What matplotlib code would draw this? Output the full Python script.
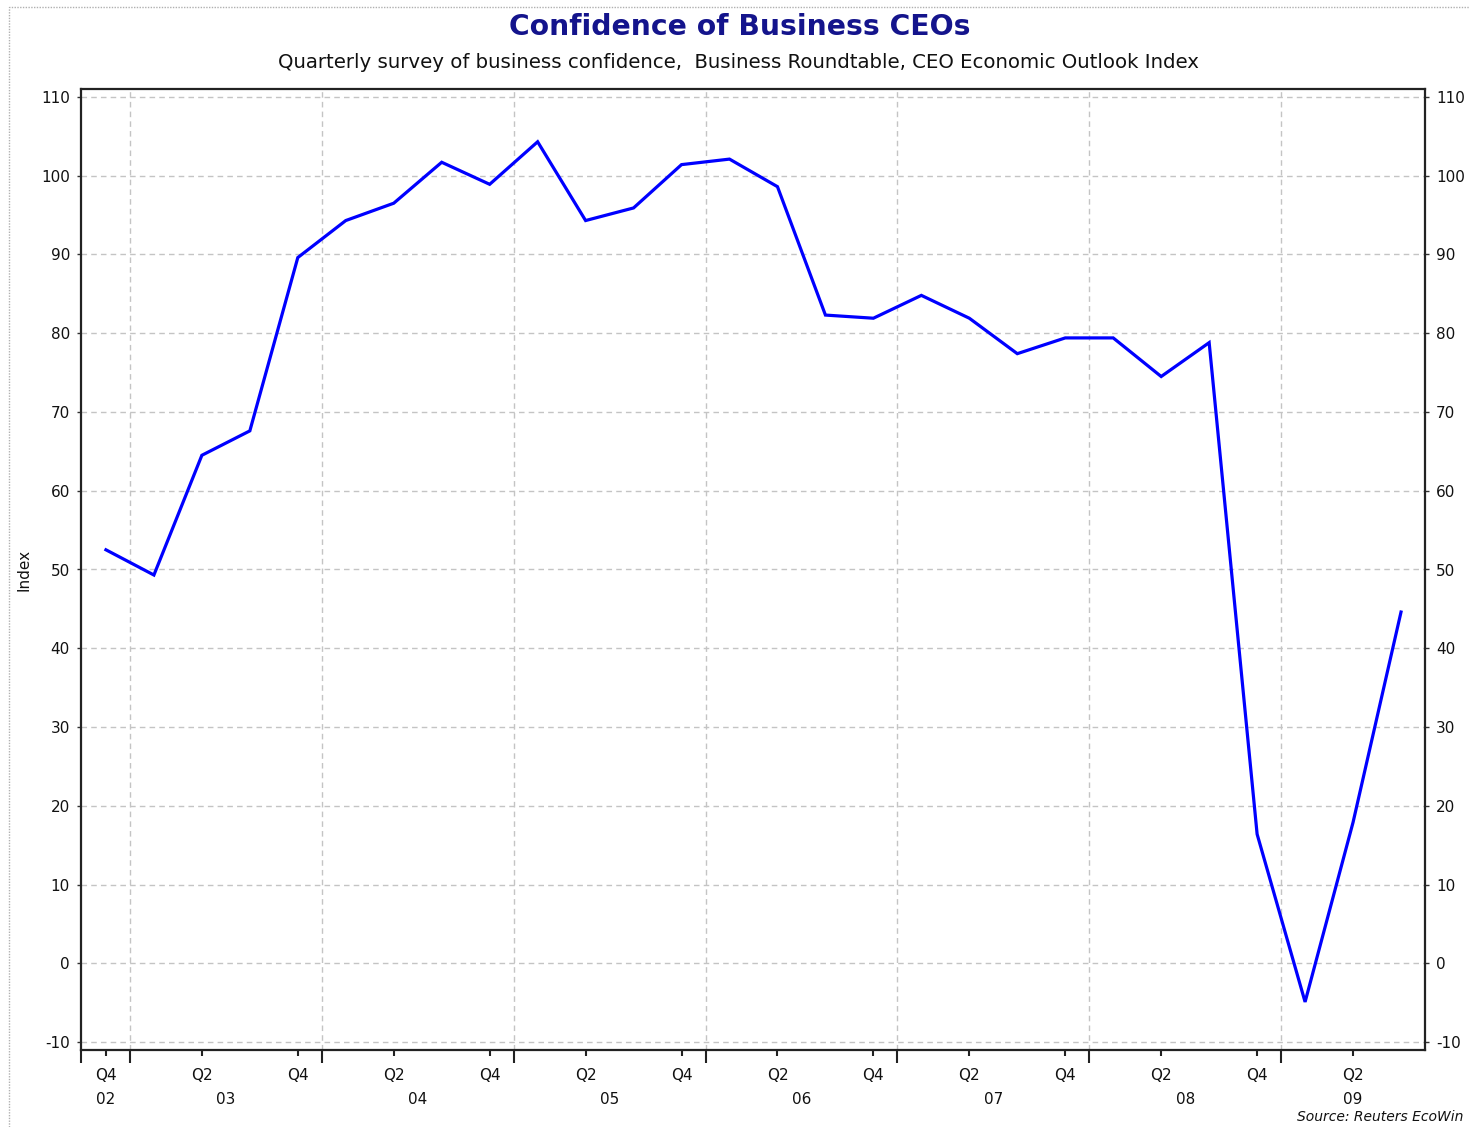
import matplotlib
matplotlib.use("Agg")
import matplotlib.pyplot as plt
from matplotlib.patches import Rectangle
from matplotlib.ticker import FixedLocator, NullFormatter
import matplotlib.transforms as mtransforms

# ---------------- data ----------------
quarters = ["Q4 02", "Q1 03", "Q2 03", "Q3 03", "Q4 03", "Q1 04", "Q2 04", "Q3 04",
            "Q4 04", "Q1 05", "Q2 05", "Q3 05", "Q4 05", "Q1 06", "Q2 06", "Q3 06",
            "Q4 06", "Q1 07", "Q2 07", "Q3 07", "Q4 07", "Q1 08", "Q2 08", "Q3 08",
            "Q4 08", "Q1 09", "Q2 09", "Q3 09"]
values = [52.5, 49.3, 64.5, 67.6, 89.6, 94.3, 96.5, 101.7,
          98.9, 104.3, 94.3, 95.9, 101.4, 102.1, 98.6, 82.3,
          81.9, 84.8, 81.9, 77.4, 79.4, 79.4, 74.5, 78.8,
          16.4, -4.9, 17.9, 44.6]
year_labels = ["02", "03", "04", "05", "06", "07", "08", "09"]
y_ticks = [-10, 0, 10, 20, 30, 40, 50, 60, 70, 80, 90, 100, 110]

title = "Confidence of Business CEOs"
subtitle = "Quarterly survey of business confidence,  Business Roundtable, CEO Economic Outlook Index"
source = "Source: Reuters EcoWin"

# ---------------- figure ----------------
plt.rcParams['font.family'] = ['DejaVu Sans']
plt.rcParams['axes.unicode_minus'] = False
fig = plt.figure(figsize=(14.7, 11.27), dpi=100)
fig.patch.set_facecolor("white")

# outer dotted border
fig.patches.append(Rectangle((9 / 1470, -0.01), 1.02, 1 - 7 / 1127 + 0.01, transform=fig.transFigure,
                             fill=False, edgecolor="#b0b0b0", linestyle=(0, (1, 1)), linewidth=1.0))

ax = fig.add_axes([81 / 1470, 1 - 1050 / 1127, (1425 - 81) / 1470, (1050 - 89) / 1127])

x = list(range(len(values)))
ax.plot(x, values, color="#0000ff", linewidth=2.3, zorder=3, solid_joinstyle="miter")

xmin, xmax = -0.52, 27.5
ax.set_xlim(xmin, xmax)
ax.set_ylim(-11, 111)

# y axis ticks both sides
ax.set_yticks(y_ticks)
ax.tick_params(axis="y", which="both", left=True, right=True, labelleft=True, labelright=True,
               direction="out", length=3, width=1, color="#333333", labelsize=11, pad=5,
               labelcolor="#111111")

# x ticks: year boundaries (major, long), Q2/Q4 (minor, short)
boundaries = [i + 0.5 for i in range(len(quarters)) if quarters[i].startswith("Q4") and i + 1 < len(quarters)]
qlab_pos = [i for i, q in enumerate(quarters) if q.startswith("Q2") or q.startswith("Q4")]
ax.xaxis.set_major_locator(FixedLocator([xmin] + boundaries))
ax.xaxis.set_minor_locator(FixedLocator(qlab_pos))
ax.xaxis.set_major_formatter(NullFormatter())
ax.xaxis.set_minor_formatter(NullFormatter())
ax.tick_params(axis="x", which="major", direction="out", length=9, width=1.5, color="#222222")
ax.tick_params(axis="x", which="minor", direction="out", length=4, width=1.5, color="#222222")

trans = mtransforms.blended_transform_factory(ax.transData, ax.transAxes)
for p in qlab_pos:
    ax.text(p, -0.019, quarters[p].split()[0], transform=trans, ha="center", va="top",
            fontsize=11, color="#111111")
# year labels centered on visible year span
edges = [xmin] + boundaries + [xmax]
for k, yl in enumerate(year_labels):
    c = (edges[k] + edges[k + 1]) / 2
    ax.text(c, -0.044, yl, transform=trans, ha="center", va="top", fontsize=11, color="#111111")

# grid
for yv in y_ticks:
    ax.axhline(yv, color="#c4c4c4", linestyle=(0, (4, 3)), linewidth=1.0, zorder=1)
for b in boundaries:
    ax.axvline(b, color="#c4c4c4", linestyle=(0, (4, 3)), linewidth=1.0, zorder=1)

for s in ax.spines.values():
    s.set_color("#222222")
    s.set_linewidth(1.6)

ax.set_ylabel("Index", fontsize=11, labelpad=7, color="#111111")

fig.text(740 / 1470, 1 - 27 / 1127, title, ha="center", va="center", fontsize=20.3,
         fontweight="bold", color="#14148c")
fig.text(738 / 1470, 1 - 62 / 1127, subtitle, ha="center", va="center", fontsize=14.2,
         color="#111111")
fig.text(1463 / 1470, 1 - 1117 / 1127, source, ha="right", va="center", fontsize=10,
         style="italic", color="#111111")

fig.savefig("out.png", dpi=100, facecolor="white")
